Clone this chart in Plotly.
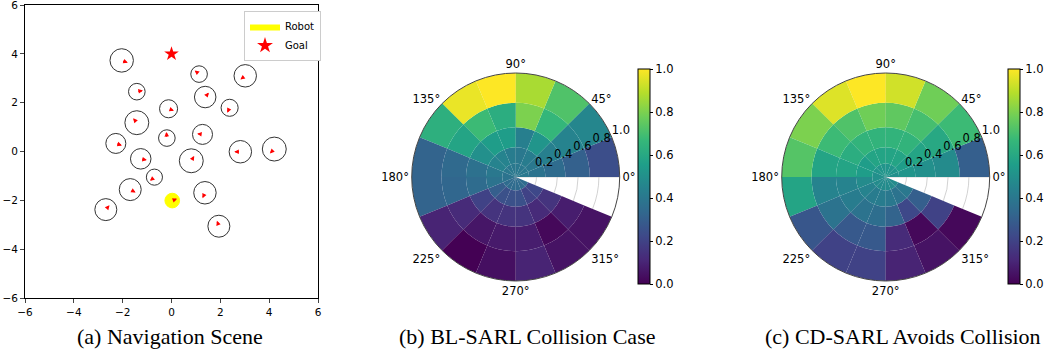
import plotly.graph_objects as go

# ---------------- Panel (a): navigation scene data ----------------
human_x = [-2.04, 1.13, 3.02, -1.42, 1.38, 2.38, -0.12, -1.42, -0.19, 1.27,
           -2.28, 2.82, 4.21, -1.26, 0.81, -0.70, -1.69, 1.37, -2.69, 1.94]
human_y = [3.73, 3.17, 3.10, 2.45, 2.23, 1.79, 1.75, 1.18, 0.55, 0.70,
           0.33, -0.01, 0.10, -0.30, -0.38, -1.05, -1.56, -1.69, -2.38, -3.06]
human_r = [0.48, 0.34, 0.46, 0.34, 0.44, 0.35, 0.37, 0.49, 0.34, 0.41,
           0.41, 0.46, 0.49, 0.42, 0.49, 0.33, 0.45, 0.46, 0.45, 0.45]
human_vx = [0.25, -0.18, -0.20, 0.25, 0.15, -0.10, 0.22, -0.15, -0.02, -0.22,
            0.25, -0.25, -0.18, 0.25, 0.12, -0.18, 0.22, -0.10, 0.15, -0.08]
human_vy = [-0.10, 0.15, -0.15, 0.05, 0.18, -0.20, -0.08, 0.18, 0.25, 0.03,
            -0.08, 0.00, -0.18, -0.05, 0.20, -0.15, -0.12, -0.22, 0.18, 0.22]
robot_x, robot_y, robot_r = 0.03, -2.01, 0.30
robot_vx, robot_vy = 0.20, 0.07
goal_x, goal_y = 0.0, 4.0
ax_ticks = [-6, -4, -2, 0, 2, 4, 6]

# ---------------- Panels (b),(c): value maps ----------------
sector_start = [0, 22.5, 45, 67.5, 90, 112.5, 135, 157.5, 180, 202.5,
                225, 247.5, 270, 292.5, 315]
speed_edges = [0.0, 0.129, 0.286, 0.478, 0.713, 1.0]

# rows: sectors, columns: rings (inner -> outer)
bl_sarl = [
    [0.40, 0.38, 0.35, 0.31, 0.24],
    [0.40, 0.40, 0.43, 0.45, 0.46],
    [0.40, 0.42, 0.52, 0.66, 0.72],
    [0.40, 0.40, 0.43, 0.80, 0.87],
    [0.40, 0.42, 0.55, 0.62, 1.00],
    [0.40, 0.45, 0.55, 0.68, 0.97],
    [0.40, 0.45, 0.50, 0.58, 0.63],
    [0.38, 0.40, 0.37, 0.34, 0.32],
    [0.38, 0.38, 0.35, 0.33, 0.32],
    [0.35, 0.30, 0.20, 0.12, 0.10],
    [0.35, 0.25, 0.15, 0.06, 0.00],
    [0.35, 0.25, 0.15, 0.07, 0.04],
    [0.35, 0.25, 0.15, 0.08, 0.10],
    [0.35, 0.20, 0.12, 0.02, 0.05],
    [0.35, 0.22, 0.15, 0.08, 0.05],
]
cd_sarl = [
    [0.50, 0.52, 0.50, 0.48, 0.30],
    [0.52, 0.55, 0.58, 0.60, 0.68],
    [0.52, 0.58, 0.65, 0.70, 0.78],
    [0.52, 0.58, 0.65, 0.75, 0.93],
    [0.52, 0.58, 0.65, 0.78, 1.00],
    [0.52, 0.58, 0.65, 0.72, 0.95],
    [0.52, 0.55, 0.62, 0.68, 0.80],
    [0.50, 0.55, 0.58, 0.58, 0.73],
    [0.50, 0.48, 0.45, 0.45, 0.58],
    [0.48, 0.45, 0.42, 0.38, 0.27],
    [0.48, 0.42, 0.38, 0.28, 0.20],
    [0.48, 0.42, 0.36, 0.28, 0.20],
    [0.48, 0.40, 0.32, 0.12, 0.10],
    [0.48, 0.38, 0.22, 0.02, 0.05],
    [0.48, 0.40, 0.30, 0.20, 0.02],
]
cbar_ticks = [0.0, 0.2, 0.4, 0.6, 0.8, 1.0]
radial_ticks = [0.2, 0.4, 0.6, 0.8, 1.0]
radial_label_angle = 22.5
captions = ["(a) Navigation Scene", "(b) BL-SARL Collision Case", "(c) CD-SARL Avoids Collision"]

W, H = 1045, 353
FONT = "DejaVu Sans"
fig = go.Figure()

# ---- panel (a) ----
shapes = []
for cx, cy, r in zip(human_x, human_y, human_r):
    shapes.append(dict(type="circle", xref="x", yref="y", x0=cx - r, x1=cx + r,
                       y0=cy - r, y1=cy + r, line=dict(color="#333333", width=1)))
shapes.append(dict(type="circle", xref="x", yref="y", x0=robot_x - robot_r, x1=robot_x + robot_r,
                   y0=robot_y - robot_r, y1=robot_y + robot_r, fillcolor="#ffff00",
                   line=dict(color="#ffff00", width=1), layer="below"))

annotations = []
for cx, cy, vx, vy in list(zip(human_x, human_y, human_vx, human_vy)) + [(robot_x, robot_y, robot_vx, robot_vy)]:
    annotations.append(dict(x=cx + vx, y=cy + vy, ax=cx, ay=cy, xref="x", yref="y",
                            axref="x", ayref="y", showarrow=True, arrowhead=2,
                            arrowsize=0.65, arrowwidth=1.4, arrowcolor="red", text=""))

fig.add_trace(go.Scatter(x=[None], y=[None], mode="lines", fill="toself",
                         fillcolor="#ffff00", line=dict(color="#ffff00", width=0),
                         name="Robot", xaxis="x", yaxis="y"))
fig.add_trace(go.Scatter(x=[goal_x], y=[goal_y], mode="markers",
                         marker=dict(symbol="star", size=11, color="red", line=dict(width=0)),
                         name="Goal", xaxis="x", yaxis="y"))

# ---- panels (b), (c) ----
def add_polar(vals, polar_name, cbar_x):
    th, base, rr, cc = [], [], [], []
    for i, s in enumerate(sector_start):
        for j in range(len(speed_edges) - 1):
            th.append(s + 11.25)
            base.append(speed_edges[j])
            rr.append(speed_edges[j + 1] - speed_edges[j])
            cc.append(vals[i][j])
    fig.add_trace(go.Barpolar(
        theta=th, r=rr, base=base, width=[22.5] * len(th), subplot=polar_name,
        showlegend=False,
        marker=dict(color=cc, colorscale="Viridis", cmin=0, cmax=1,
                    line=dict(width=0),
                    showscale=True,
                    colorbar=dict(x=cbar_x, xanchor="left", y=0.5, yanchor="middle",
                                  len=215 / H, lenmode="fraction", thickness=12,
                                  xpad=0, ypad=0,
                                  outlinewidth=1, outlinecolor="black",
                                  tickvals=cbar_ticks, ticktext=[f"{v:.1f}" for v in cbar_ticks],
                                  ticks="outside", ticklen=3, tickcolor="black",
                                  tickfont=dict(family=FONT, size=11.5, color="black"))),
        hoverinfo="skip"))
    # radial tick labels (matplotlib style: horizontal, just outside each grid circle)
    fig.add_trace(go.Scatterpolar(
        r=radial_ticks, theta=[radial_label_angle] * len(radial_ticks),
        text=[f"{v:.1f}" for v in radial_ticks], mode="text",
        textposition="top right", cliponaxis=False, subplot=polar_name,
        textfont=dict(family=FONT, size=11.5, color="black"),
        showlegend=False, hoverinfo="skip"))

add_polar(bl_sarl, "polar", 638 / W)
add_polar(cd_sarl, "polar2", 1008 / W)

polar_common = dict(
    bgcolor="white",
    radialaxis=dict(range=[0, 1], tickvals=radial_ticks, showticklabels=False,
                    angle=22.5, showline=False, ticks="",
                    gridcolor="rgba(205,205,205,0.9)", gridwidth=1),
    angularaxis=dict(tickvals=[0, 45, 90, 135, 180, 225, 270, 315],
                     ticktext=["0°", "45°", "90°", "135°", "180°", "225°", "270°", "315°"],
                     direction="counterclockwise", rotation=0,
                     showline=True, linecolor="#444444", linewidth=1, ticks="",
                     gridcolor="rgba(205,205,205,0.9)", gridwidth=1,
                     tickfont=dict(family=FONT, size=11.5, color="black")),
)

def cap(text, xc):
    return dict(text=text, x=xc / W, y=1 - 336 / H, xref="paper", yref="paper",
                showarrow=False, xanchor="center", yanchor="middle",
                font=dict(family="Liberation Serif", size=22, color="black"))

annotations += [cap(captions[0], 170), cap(captions[1], 527), cap(captions[2], 903)]

axis_common = dict(range=[-6, 6], tickvals=ax_ticks, automargin=False,
                   showgrid=False, zeroline=False, showline=True, mirror=True,
                   linecolor="black", linewidth=1, ticks="outside", ticklen=4,
                   ticklabeloverflow="allow",
                   tickfont=dict(family=FONT, size=10.5, color="black"))

fig.update_layout(
    width=W, height=H, margin=dict(l=0, r=0, t=0, b=0, autoexpand=False),
    paper_bgcolor="white", plot_bgcolor="white",
    font=dict(family=FONT, size=10, color="black"),
    xaxis=dict(domain=[25 / W, 318 / W], anchor="y", **axis_common),
    yaxis=dict(domain=[1 - 298 / H, 1 - 5 / H], anchor="x", **axis_common),
    polar=dict(domain=dict(x=[411.7 / W, 619.7 / W], y=[1 - 281 / H, 1 - 73 / H]), **polar_common),
    polar2=dict(domain=dict(x=[781.7 / W, 989.7 / W], y=[1 - 281 / H, 1 - 73 / H]), **polar_common),
    legend=dict(x=244 / W, y=1 - 11 / H, xanchor="left", yanchor="top",
                bgcolor="white", bordercolor="#cccccc", borderwidth=1,
                font=dict(family=FONT, size=10, color="black"),
                itemsizing="constant", itemwidth=30, tracegroupgap=0),
    shapes=shapes, annotations=annotations,
)

fig.write_html("out.html", config={"displayModeBar": False},
               post_script="document.body.style.margin='0px';document.body.style.overflow='hidden';")
